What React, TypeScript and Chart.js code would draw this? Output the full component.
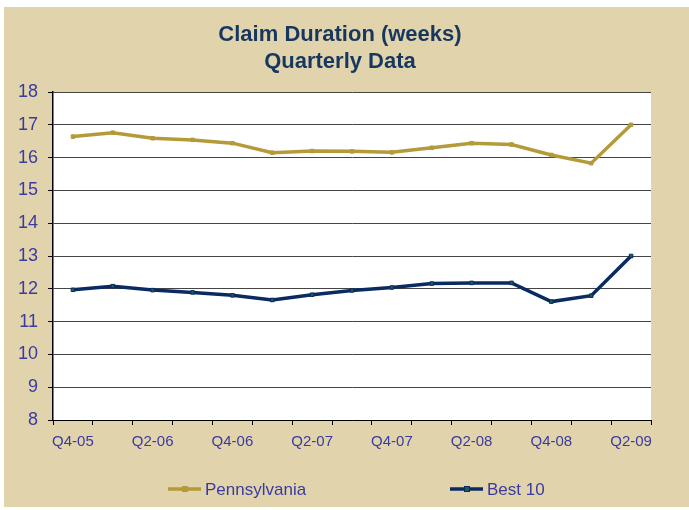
import React, { useEffect, useRef } from "react";
import { Chart, registerables } from "chart.js";

Chart.register(...registerables);

const quarters = [
  "Q4-05", "Q1-06", "Q2-06", "Q3-06", "Q4-06", "Q1-07", "Q2-07", "Q3-07",
  "Q4-07", "Q1-08", "Q2-08", "Q3-08", "Q4-08", "Q1-09", "Q2-09",
];
const pennsylvania = [16.64, 16.76, 16.59, 16.54, 16.44, 16.15, 16.2, 16.19, 16.16, 16.3, 16.44, 16.4, 16.08, 15.83, 17.0];
const best10 = [11.97, 12.08, 11.96, 11.89, 11.8, 11.66, 11.82, 11.95, 12.04, 12.16, 12.18, 12.18, 11.61, 11.79, 13.0];
const titleLines = ["Claim Duration (weeks)", "Quarterly Data"];
const yMin = 8;
const yMax = 18;

const GOLD = "#B59A3A";
const NAVY = "#0A2A63";
const LABEL = "#3A3AA0";
const TITLE = "#17375E";
const FONT = "'Liberation Sans', Arial, sans-serif";

const titlePlugin = {
  id: "customTitle",
  afterDraw(chart: any) {
    const ctx = chart.ctx;
    ctx.save();
    ctx.fillStyle = TITLE;
    ctx.font = `bold 22px ${FONT}`;
    ctx.textAlign = "center";
    ctx.textBaseline = "middle";
    titleLines.forEach((t, i) => ctx.fillText(t, 336, 28 + i * 26.5));
    ctx.restore();
  },
};

const legendPlugin = {
  id: "customLegend",
  afterDraw(chart: any) {
    const ctx = chart.ctx;
    const items = [
      { x: 164, ds: chart.data.datasets[0] },
      { x: 446, ds: chart.data.datasets[1] },
    ];
    const y = 482;
    ctx.save();
    for (const it of items) {
      ctx.strokeStyle = it.ds.borderColor;
      ctx.lineWidth = 3.5;
      ctx.beginPath();
      ctx.moveTo(it.x, y);
      ctx.lineTo(it.x + 33, y);
      ctx.stroke();
      ctx.fillStyle = it.ds.pointBackgroundColor;
      ctx.strokeStyle = it.ds.pointBorderColor;
      ctx.lineWidth = 1;
      ctx.fillRect(it.x + 14.5, y - 2.5, 5, 5);
      ctx.strokeRect(it.x + 14.5, y - 2.5, 5, 5);
      ctx.fillStyle = LABEL;
      ctx.font = `17px ${FONT}`;
      ctx.textBaseline = "middle";
      ctx.textAlign = "left";
      ctx.fillText(it.ds.label, it.x + 37, y + 1);
    }
    ctx.restore();
  },
};

export default function App() {
  const ref = useRef<HTMLCanvasElement | null>(null);
  useEffect(() => {
    if (!ref.current) return;
    const chart = new Chart(ref.current, {
      type: "line",
      data: {
        labels: quarters,
        datasets: [
          {
            label: "Pennsylvania",
            data: pennsylvania,
            borderColor: GOLD,
            backgroundColor: GOLD,
            borderWidth: 3.5,
            pointStyle: "rect",
            pointRadius: 2.5,
            pointBackgroundColor: GOLD,
            pointBorderColor: GOLD,
            pointBorderWidth: 1,
            tension: 0,
          },
          {
            label: "Best 10",
            data: best10,
            borderColor: NAVY,
            backgroundColor: NAVY,
            borderWidth: 3.5,
            pointStyle: "rect",
            pointRadius: 2.5,
            pointBackgroundColor: "#1E5E4E",
            pointBorderColor: NAVY,
            pointBorderWidth: 1,
            tension: 0,
          },
        ],
      },
      options: {
        animation: false,
        responsive: false,
        maintainAspectRatio: false,
        layout: { padding: { left: 4, right: 38, top: 85, bottom: 48 } },
        plugins: {
          legend: { display: false },
          tooltip: { enabled: false },
          title: { display: false },
        },
        scales: {
          x: {
            type: "category",
            offset: true,
            grid: {
              offset: true,
              drawOnChartArea: false,
              drawTicks: true,
              tickLength: 5,
              color: "#000",
            },
            border: { display: true, color: "#000", width: 1 },
            ticks: {
              autoSkip: false,
              maxRotation: 0,
              color: LABEL,
              font: { family: FONT, size: 15 },
              padding: 8,
              callback: function (this: any, value: any, index: number) {
                return index % 2 === 0 ? this.getLabelForValue(value) : "";
              },
            },
          },
          y: {
            min: yMin,
            max: yMax,
            grid: {
              color: "#444",
              drawTicks: true,
              tickLength: 5,
              tickColor: "#000",
            },
            border: { display: true, color: "#000", width: 1.5 },
            ticks: {
              stepSize: 1,
              color: LABEL,
              font: { family: FONT, size: 18 },
              padding: 10,
            },
          },
        },
      },
      plugins: [titlePlugin, legendPlugin, {
        id: "plotBg",
        beforeDraw(c: any) {
          const a = c.chartArea;
          c.ctx.save();
          c.ctx.fillStyle = "#ffffff";
          c.ctx.fillRect(a.left, a.top, a.right - a.left, a.bottom - a.top);
          c.ctx.restore();
        },
      }],
    });
    return () => chart.destroy();
  }, []);

  return (
    <div style={{ position: "fixed", left: 0, top: 0, width: 689, height: 510, background: "#ffffff" }}>
      <div style={{ position: "absolute", left: 4, top: 7, width: 685, height: 500, background: "#E1D4AD" }}>
        <canvas ref={ref} width={685} height={500} style={{ display: "block" }} />
      </div>
    </div>
  );
}
